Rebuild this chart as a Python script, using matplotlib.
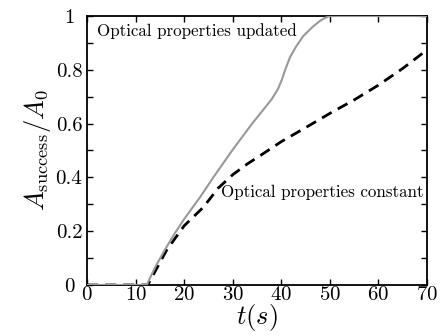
import matplotlib
matplotlib.use("Agg")
import matplotlib.pyplot as plt
from matplotlib.ticker import MultipleLocator

plt.rcParams['font.family'] = 'serif'
plt.rcParams['font.serif'] = ['cmr10']
plt.rcParams['mathtext.fontset'] = 'cm'
plt.rcParams['axes.formatter.use_mathtext'] = True
plt.rcParams['axes.unicode_minus'] = False

t_updated = [0, 12.3, 14, 16, 18, 20, 23.3, 26, 30, 34, 38, 39.3, 40.1, 40.8, 41.8, 43, 44.5, 46.6, 48, 49, 50, 70]
a_updated = [0, 0, 0.065, 0.13, 0.19, 0.245, 0.327, 0.40, 0.503, 0.60, 0.69, 0.728, 0.762, 0.80, 0.847, 0.885, 0.925, 0.962, 0.982, 0.993, 1.0, 1.0]

t_constant = [0, 12.5, 14, 16.4, 18, 20, 24, 27, 30, 33, 36, 40, 45, 50, 55, 60, 65, 70]
a_constant = [0, 0, 0.05, 0.13, 0.17, 0.22, 0.29, 0.36, 0.41, 0.45, 0.485, 0.533, 0.585, 0.638, 0.688, 0.743, 0.805, 0.874]

yticks = [0, 0.2, 0.4, 0.6, 0.8, 1.0]
ytick_labels = ['0', '0.2', '0.4', '0.6', '0.8', '1']

fig = plt.figure(figsize=(4.42, 3.36), dpi=100)
ax = fig.add_axes([87/442, 1 - 285/336, 340/442, 269/336])

ax.plot(t_updated, a_updated, color='#999999', lw=1.5, zorder=3)
ax.plot(t_constant, a_constant, color='black', lw=2.0, dashes=(4, 2.5), zorder=2)

ax.set_xlim(0, 70)
ax.set_ylim(0, 1)
ax.xaxis.set_major_locator(MultipleLocator(10))
ax.set_yticks(yticks)
ax.set_yticklabels(ytick_labels)
ax.yaxis.set_minor_locator(MultipleLocator(0.1))
ax.tick_params(which='both', direction='in', top=True, right=True, width=1, length=4)
ax.tick_params(axis='x', labelsize=15, pad=1)
ax.tick_params(axis='y', labelsize=15, pad=13)
for lab in ax.get_yticklabels():
    lab.set_horizontalalignment('center')
for s in ax.spines.values():
    s.set_linewidth(1.3)

ax.set_xlabel(r'$t(s)$', fontsize=19, labelpad=-2)
ax.set_ylabel(r'$A_{\rm success}/A_0$', fontsize=19, labelpad=2)

ax.text(2, 0.945, 'Optical properties updated', fontsize=12.2, va='center', ha='left')
ax.text(27.6, 0.345, 'Optical properties constant', fontsize=12.2, va='center', ha='left')

fig.savefig('out.png', dpi=100)
